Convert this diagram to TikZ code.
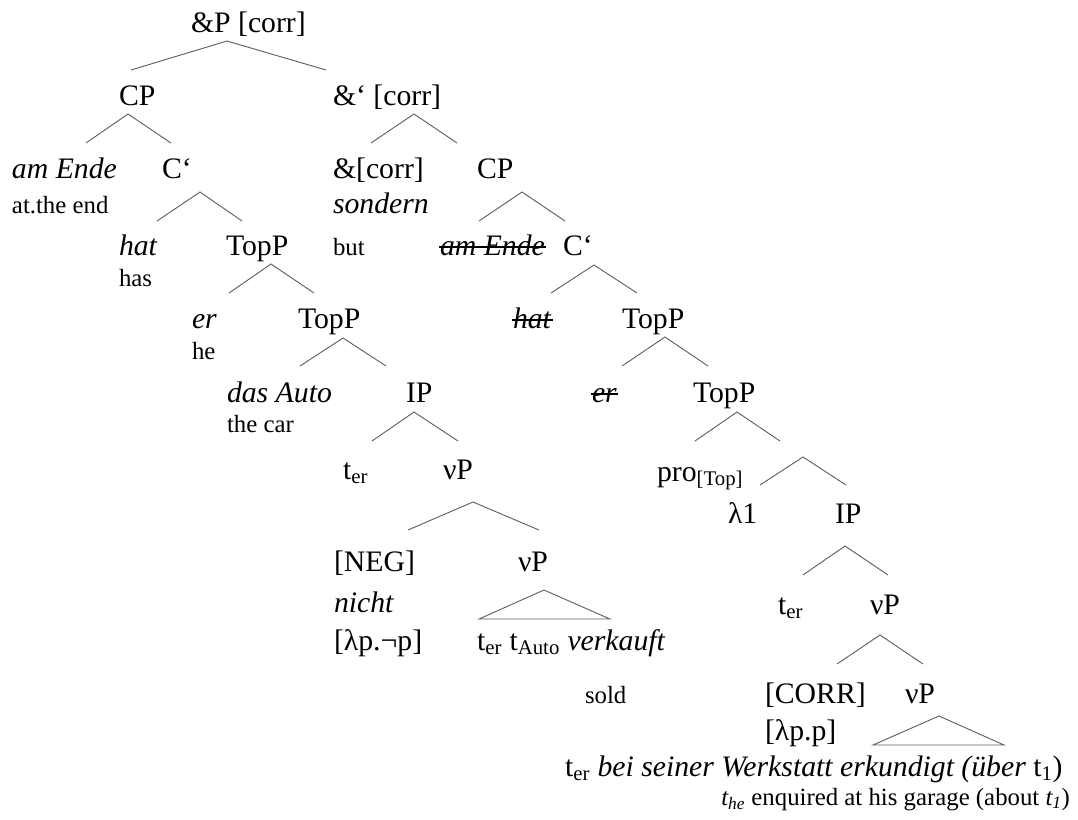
\documentclass[tikz,border=0pt]{standalone}
\usepackage{fontspec}
\setmainfont{Liberation Serif}
\usetikzlibrary{calc}
\newcommand{\mainsz}{\fontsize{22.3pt}{26pt}\selectfont}
\newcommand{\glosssz}{\fontsize{18.6pt}{22pt}\selectfont}
\newcommand{\sbs}[1]{\textsubscript{#1}}
\tikzset{
  lab/.style={anchor=base west, inner sep=0pt, outer sep=0pt, font=\mainsz},
  gl/.style={anchor=base west, inner sep=0pt, outer sep=0pt, font=\glosssz},
  branch/.style={draw=black!62, line width=0.7pt},
  strikeline/.style={draw=black, line width=0.9pt}
}
\begin{document}
\begin{tikzpicture}[x=0.75pt,y=-0.75pt]
\useasboundingbox[fill=white] (0,0) rectangle (1078,819);

% ---------- labels ----------
\node[lab] (n1) at (191,32) {\&P [corr]};
\node[lab] (n2) at (119,105) {CP};
\node[lab] (n3) at (333,105) {\&‘ [corr]};
\node[lab] (n4) at (12,178) {\textit{am Ende}};
\node[gl]  (g4) at (12,213) {at.the end};
\node[lab] (n5) at (162,178) {C‘};
\node[lab] (n6) at (333,178) {\&[corr]};
\node[lab] (n6b) at (333,213) {\textit{sondern}};
\node[gl]  (g6) at (333,255) {but};
\node[lab] (n7) at (477,178) {CP};
\node[lab] (n8) at (119,255) {\textit{hat}};
\node[gl]  (g8) at (119,286) {has};
\node[lab] (n9) at (226,255) {TopP};
\node[lab] (n10) at (440,255) {\textit{am Ende}};
\node[lab] (n11) at (563,255) {C‘};
\node[lab] (n12) at (192,328) {\textit{er}};
\node[gl]  (g12) at (192,359) {he};
\node[lab] (n13) at (298,328) {TopP};
\node[lab] (n14) at (513,328) {\textit{hat}};
\node[lab] (n15) at (622,328) {TopP};
\node[lab] (n16) at (227,402) {\textit{das Auto}};
\node[gl]  (g16) at (227,432) {the car};
\node[lab] (n17) at (406,402) {IP};
\node[lab] (n18) at (592,402) {\textit{er}};
\node[lab] (n19) at (693,402) {TopP};
\node[lab] (n20) at (343,479) {t\sbs{er}};
\node[lab] (n21) at (443,479) {νP};
\node[lab] (n22) at (657,481) {pro\sbs{[Top]}};
\node[lab] (n23) at (728,523) {λ1};
\node[lab] (n24) at (835,523) {IP};
\node[lab] (n25) at (334,571) {[NEG]};
\node[lab] (n25b) at (334,612) {\textit{nicht}};
\node[lab] (n25c) at (334,650) {[λp.¬p]};
\node[lab] (n26) at (518,571) {νP};
\node[lab] (n27) at (477,650) {t\sbs{er} t\sbs{Auto} \textit{verkauft}};
\node[gl]  (g27) at (585,703) {sold};
\node[lab] (n28) at (778,614) {t\sbs{er}};
\node[lab] (n29) at (870,614) {νP};
\node[lab] (n30) at (765,703) {[CORR]};
\node[lab] (n30b) at (765,740) {[λp.p]};
\node[lab] (n31) at (905,703) {νP};
\node[lab] (n32) at (565,776) {t\sbs{er} \textit{bei seiner Werkstatt erkundigt (über} t\sbs{1})};
\node[gl, anchor=base east] (g32) at (1070,805) {\textit{t\sbs{he}} enquired at his garage (about \textit{t\sbs{1}})};

% ---------- strike-outs ----------
\foreach \w in {n10,n14,n18}{
  \draw[strikeline] ($(\w.base west)+(-1,-8)$) -- ($(\w.base east)+(1,-8)$);
}

% ---------- branch points ----------
\coordinate (a1) at (227,41);  \coordinate (l1) at (131,70);  \coordinate (r1) at (326,70);
\coordinate (a2) at (128,114); \coordinate (l2) at (86,143);  \coordinate (r2) at (171,143);
\coordinate (a3) at (414,114); \coordinate (l3) at (371,143); \coordinate (r3) at (457,143);
\coordinate (a4) at (200,192); \coordinate (l4) at (157,221); \coordinate (r4) at (242,221);
\coordinate (a5) at (522,192); \coordinate (l5) at (479,221); \coordinate (r5) at (565,221);
\coordinate (a6) at (271,264); \coordinate (l6) at (229,293); \coordinate (r6) at (314,293);
\coordinate (a7) at (594,265); \coordinate (l7) at (551,293); \coordinate (r7) at (637,293);
\coordinate (a8) at (343,338); \coordinate (l8) at (300,366); \coordinate (r8) at (386,366);
\coordinate (a9) at (665,337); \coordinate (l9) at (622,366); \coordinate (r9) at (708,366);
\coordinate (a10) at (414,412); \coordinate (l10) at (372,441); \coordinate (r10) at (458,441);
\coordinate (a11) at (737,412); \coordinate (l11) at (695,441); \coordinate (r11) at (780,441);
\coordinate (a12) at (473,502); \coordinate (l12) at (408,530); \coordinate (r12) at (539,530);
\coordinate (a13) at (803,457); \coordinate (l13) at (760,485); \coordinate (r13) at (846,485);
\coordinate (a14) at (845,546); \coordinate (l14) at (803,575); \coordinate (r14) at (888,575);
\coordinate (a15) at (880,635); \coordinate (l15) at (837,664); \coordinate (r15) at (923,664);
\coordinate (t1a) at (544,590); \coordinate (t1l) at (479,619); \coordinate (t1r) at (610,619);
\coordinate (t2a) at (939,716); \coordinate (t2l) at (873,745); \coordinate (t2r) at (1004,745);

\foreach \i in {1,...,15}{
  \draw[branch] (l\i) -- (a\i) -- (r\i);
}
\draw[branch] (t1a) -- (t1l) -- (t1r) -- cycle;
\draw[branch] (t2a) -- (t2l) -- (t2r) -- cycle;
\end{tikzpicture}
\end{document}
